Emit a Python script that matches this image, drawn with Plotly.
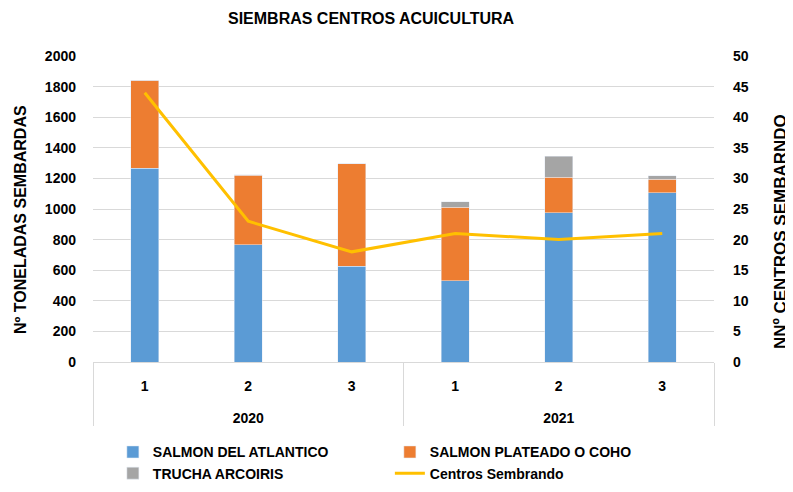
import plotly.graph_objects as go

years = ["2020", "2020", "2020", "2021", "2021", "2021"]
periods = ["1", "2", "3", "1", "2", "3"]
salmon_atlantico = [1265, 767, 626, 531, 974, 1106]
salmon_coho = [575, 452, 671, 482, 235, 87]
trucha = [0, 5, 0, 33, 136, 24]
centros = [44, 23, 18, 21, 20, 21]

FONT = "Liberation Sans, Arial"
# inner labels get an empty second line so the year row sits lower, as in the reference
x = [years, [p + "<br><span style='font-size:37px'> </span>" for p in periods]]

fig = go.Figure()
fig.add_trace(go.Bar(x=x, y=salmon_atlantico, name="SALMON DEL ATLANTICO", marker_color="#5B9BD5"))
fig.add_trace(go.Bar(x=x, y=salmon_coho, name="SALMON PLATEADO O COHO", marker_color="#ED7D31"))
fig.add_trace(go.Bar(x=x, y=trucha, name="TRUCHA ARCOIRIS", marker_color="#A5A5A5"))
fig.add_trace(go.Scatter(x=x, y=centros, name="Centros Sembrando", mode="lines",
                         line=dict(color="#FFC000", width=3), yaxis="y2"))

bold = dict(family=FONT, weight="bold", color="black")

fig.update_layout(
    width=785, height=484,
    barmode="stack", bargap=0.73,
    plot_bgcolor="white", paper_bgcolor="white",
    font=dict(size=14, **bold),
    title=dict(text="SIEMBRAS CENTROS ACUICULTURA", x=0.4625, xanchor="center",
               xref="container", y=0.979, yanchor="middle",
               font=dict(size=16, **bold)),
    margin=dict(l=85, r=79, t=48, b=130, autoexpand=False),
    xaxis=dict(type="multicategory", showline=True, linecolor="#D9D9D9",
               showdividers=True, dividercolor="#D9D9D9", dividerwidth=1,
               tickfont=dict(size=14, **bold), ticks="",
               ticklabelstandoff=11),
    yaxis=dict(range=[0, 2000], dtick=200, showgrid=True, gridcolor="#D9D9D9",
               zeroline=False, tickfont=dict(size=14, **bold),
               ticklabelstandoff=16),
    yaxis2=dict(range=[0, 50], dtick=5, overlaying="y", side="right", showgrid=False,
                zeroline=False, tickfont=dict(size=14, **bold),
                ticklabelstandoff=18),
    legend=dict(orientation="h", x=0.032, y=0.115, yref="container", xanchor="left", yanchor="top",
                entrywidth=232, entrywidthmode="pixels", traceorder="normal",
                font=dict(size=14, **bold)),
    annotations=[
        dict(text="Nº TONELADAS SEMBARDAS", textangle=-90, xref="paper", yref="paper",
             x=-0.1176, y=0.467, xanchor="center", yanchor="middle", showarrow=False,
             font=dict(size=16, **bold)),
        dict(text="NNº CENTROS SEMBARNDO", textangle=-90, xref="paper", yref="paper",
             x=1.1062, y=0.428, xanchor="center", yanchor="middle", showarrow=False,
             font=dict(size=17, **bold)),
    ],
)

fig.write_html("out.html")
